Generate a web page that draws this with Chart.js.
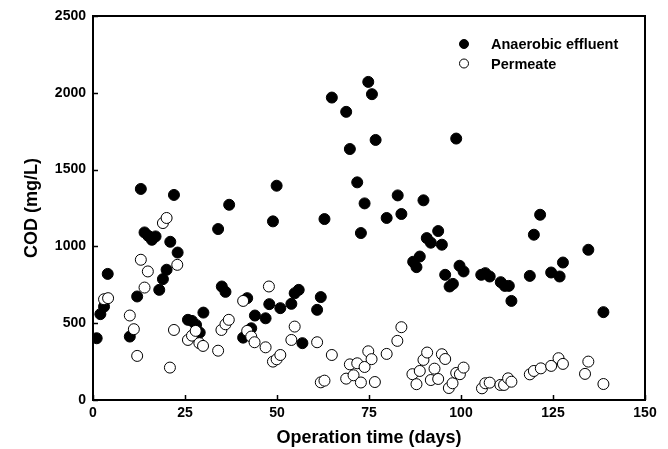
<!DOCTYPE html>
<html>
<head>
<meta charset="utf-8">
<script src="https://cdn.jsdelivr.net/npm/chart.js@4/dist/chart.umd.min.js"></script>
<style>
  body { margin: 0; background: #fff; }
  #wrap { width: 668px; height: 449px; }
</style>
</head>
<body>
<div id="wrap"><canvas id="codChart"></canvas></div>
<script>
// operation day / COD (mg/L)
const effluentDays = [1, 2, 3, 4, 10, 12, 13, 14, 15, 16, 17, 18, 19, 20, 21, 22, 23,
  25.8, 26.9, 28, 29, 30, 34, 35, 36, 37, 40.8, 41.9, 43, 44, 46.9, 47.9, 48.9, 49.9, 50.9,
  53.9, 54.8, 55.9, 56.9, 60.9, 61.9, 62.9, 64.9, 68.8, 69.8, 71.8, 72.8, 73.8, 74.8, 75.8,
  76.8, 79.8, 82.8, 83.8, 87, 87.9, 88.8, 89.8, 90.7, 91.8, 93.8, 94.8, 95.7, 96.9, 97.8,
  98.7, 99.6, 100.7, 105.5, 106.6, 107.8, 110.8, 111.9, 113, 113.7, 118.7, 119.8, 121.5,
  124.5, 126.8, 127.7, 134.6, 138.7];
const effluentCod = [402, 559, 608, 821, 413, 674, 1374, 1091, 1069, 1043, 1065, 717, 787, 848, 1030, 1335, 960,
  522, 515, 489, 439, 569, 1113, 739, 704, 1271, 406, 663, 467, 550, 532, 624, 1163, 1395, 598,
  626, 695, 717, 370, 587, 670, 1178, 1969, 1876, 1634, 1417, 1087, 1280, 2071, 1991,
  1693, 1185, 1332, 1211, 900, 865, 934, 1300, 1054, 1024, 1100, 1011, 815, 739, 756,
  1702, 874, 837, 815, 826, 804, 767, 743, 743, 645, 808, 1076, 1206,
  830, 804, 895, 978, 572];

const permeateDays = [3, 4.1, 10, 11.1, 12, 13, 14, 14.9, 19, 20, 20.9, 22, 22.9,
  25.8, 26.9, 27.9, 28.9, 29.9, 34, 34.9, 36, 36.9, 40.8, 41.9, 43, 43.9, 46.9, 47.8, 48.9,
  49.9, 50.9, 53.9, 54.8, 60.9, 61.9, 62.9, 64.9, 68.8, 69.8, 70.8, 71.8, 72.8, 73.8, 74.8,
  75.7, 76.6, 79.8, 82.7, 83.8, 86.8, 87.9, 88.8, 89.8, 90.8, 91.8, 92.8, 93.8, 94.8, 95.7,
  96.7, 97.7, 98.7, 99.7, 100.7, 105.7, 106.6, 107.8, 110.7, 111.7, 112.8, 113.7, 118.7,
  119.8, 121.7, 124.5, 126.5, 127.7, 133.7, 134.6, 138.7];
const permeateCod = [656, 663, 550, 461, 287, 913, 732, 837, 1152, 1185, 211, 456, 880,
  391, 419, 450, 370, 352, 321, 456, 493, 522, 645, 450, 413, 376, 343, 739, 250,
  265, 293, 391, 478, 376, 115, 126, 293, 139, 232, 161, 239, 114, 215, 317,
  266, 117, 300, 385, 474, 168, 103, 189, 261, 309, 130, 204, 137, 298, 267,
  78, 109, 176, 168, 211, 76, 109, 113, 98, 98, 141, 119, 167,
  189, 206, 222, 272, 235, 170, 250, 104];

const xTicks = [0, 25, 50, 75, 100, 125, 150];
const yTicks = [0, 500, 1000, 1500, 2000, 2500];

const toPoints = (xs, ys) => xs.map((x, i) => ({ x: x, y: ys[i] }));

const FONT = "'Liberation Sans', Arial, sans-serif";

// frame round the plot + inward tick marks + legend
const framePlugin = {
  id: 'frame',
  afterDraw(chart) {
    const { ctx, chartArea: a, scales } = chart;
    ctx.save();
    ctx.strokeStyle = '#000';
    ctx.lineWidth = 2;
    ctx.strokeRect(a.left, a.top, a.right - a.left, a.bottom - a.top);
    ctx.lineWidth = 1.5;
    ctx.beginPath();
    xTicks.forEach(v => {
      const px = Math.round(scales.x.getPixelForValue(v)) + 0.5;
      ctx.moveTo(px, a.bottom);
      ctx.lineTo(px, a.bottom - 5);
    });
    yTicks.forEach(v => {
      const py = Math.round(scales.y.getPixelForValue(v)) + 0.5;
      ctx.moveTo(a.left, py);
      ctx.lineTo(a.left + 5, py);
    });
    ctx.stroke();

    // legend
    const lx = 464, ly = 44, gap = 19.5;
    ctx.font = 'bold 14.5px ' + FONT;
    ctx.textBaseline = 'middle';
    ctx.fillStyle = '#000';
    chart.data.datasets.slice().reverse().forEach((ds, i) => {
      const y = ly + i * gap;
      ctx.beginPath();
      ctx.arc(lx, y, 4.5, 0, Math.PI * 2);
      ctx.fillStyle = ds.backgroundColor;
      ctx.fill();
      ctx.lineWidth = 1;
      ctx.strokeStyle = '#000';
      ctx.stroke();
      ctx.fillStyle = '#000';
      ctx.fillText(ds.label, 491, y + 1);
    });
    ctx.restore();
  }
};

new Chart(document.getElementById('codChart'), {
  type: 'scatter',
  data: {
    datasets: [
      {
        label: 'Permeate',
        data: toPoints(permeateDays, permeateCod),
        backgroundColor: '#fff',
        borderColor: '#000',
        borderWidth: 1,
        pointRadius: 5.5,
        order: 0
      },
      {
        label: 'Anaerobic effluent',
        data: toPoints(effluentDays, effluentCod),
        backgroundColor: '#000',
        borderColor: '#000',
        borderWidth: 1,
        pointRadius: 5.5,
        order: 1
      }
    ]
  },
  options: {
    responsive: true,
    maintainAspectRatio: false,
    animation: false,
    layout: { padding: { left: 0, right: 23, top: 16, bottom: 0 } },
    plugins: {
      legend: { display: false },
      tooltip: { enabled: false }
    },
    scales: {
      x: {
        type: 'linear',
        min: 0,
        max: 150,
        afterFit: s => { s.height = 49; },
        afterBuildTicks: s => { s.ticks = xTicks.map(v => ({ value: v })); },
        grid: { display: false, drawTicks: false },
        border: { display: false },
        ticks: {
          padding: 5,
          color: '#000',
          callback: v => String(v),
          font: { family: FONT, size: 14, weight: 'bold' }
        },
        title: {
          display: true,
          text: 'Operation time (days)',
          color: '#000',
          padding: { top: 0, bottom: 0 },
          font: { family: FONT, size: 18, weight: 'bold' }
        }
      },
      y: {
        min: 0,
        max: 2500,
        afterFit: s => { s.width = 93; },
        afterBuildTicks: s => { s.ticks = yTicks.map(v => ({ value: v })); },
        grid: { display: false, drawTicks: false },
        border: { display: false },
        ticks: {
          padding: 7,
          color: '#000',
          callback: v => String(v),
          font: { family: FONT, size: 14, weight: 'bold' }
        },
        title: {
          display: true,
          text: 'COD (mg/L)',
          color: '#000',
          padding: { top: 21, bottom: 0 },
          font: { family: FONT, size: 18, weight: 'bold' }
        }
      }
    }
  },
  plugins: [framePlugin]
});
</script>
</body>
</html>
